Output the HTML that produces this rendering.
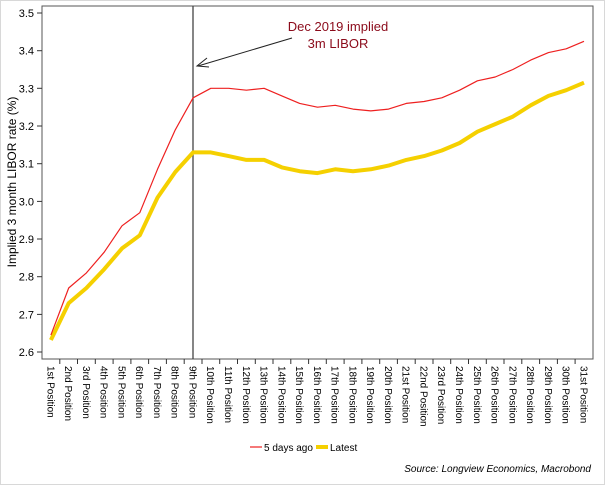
<!DOCTYPE html>
<html><head><style>
html,body{margin:0;padding:0;background:#fff;}
svg{display:block;font-family:"Liberation Sans",Arial,sans-serif;}
</style></head><body>
<svg width="605" height="485" viewBox="0 0 605 485">
<rect x="0.5" y="0.5" width="604" height="484" fill="#fff" stroke="#d8d8d8"/>
<rect x="42" y="6" width="551" height="353" fill="none" stroke="#555" stroke-width="1"/>
<g stroke="#333" stroke-width="1">
<line x1="37" y1="13" x2="42" y2="13"/><line x1="37" y1="50.7" x2="42" y2="50.7"/><line x1="37" y1="88.3" x2="42" y2="88.3"/><line x1="37" y1="126" x2="42" y2="126"/><line x1="37" y1="163.7" x2="42" y2="163.7"/><line x1="37" y1="201.4" x2="42" y2="201.4"/><line x1="37" y1="239" x2="42" y2="239"/><line x1="37" y1="276.7" x2="42" y2="276.7"/><line x1="37" y1="314.4" x2="42" y2="314.4"/><line x1="37" y1="352" x2="42" y2="352"/>
</g>
<g font-size="11" fill="#000" text-anchor="end">
<text x="34" y="17">3.5</text><text x="34" y="54.7">3.4</text><text x="34" y="92.3">3.3</text><text x="34" y="130">3.2</text><text x="34" y="167.7">3.1</text><text x="34" y="205.4">3.0</text><text x="34" y="243">2.9</text><text x="34" y="280.7">2.8</text><text x="34" y="318.4">2.7</text><text x="34" y="356">2.6</text>
</g>
<text transform="translate(16,182) rotate(-90)" font-size="12" text-anchor="middle">Implied 3 month LIBOR rate (%)</text>
<g stroke="#333" stroke-width="1">
<line x1="59.8" y1="359" x2="59.8" y2="364"/><line x1="77.5" y1="359" x2="77.5" y2="364"/><line x1="95.3" y1="359" x2="95.3" y2="364"/><line x1="113.1" y1="359" x2="113.1" y2="364"/><line x1="130.9" y1="359" x2="130.9" y2="364"/><line x1="148.6" y1="359" x2="148.6" y2="364"/><line x1="166.4" y1="359" x2="166.4" y2="364"/><line x1="184.2" y1="359" x2="184.2" y2="364"/><line x1="202" y1="359" x2="202" y2="364"/><line x1="219.7" y1="359" x2="219.7" y2="364"/><line x1="237.5" y1="359" x2="237.5" y2="364"/><line x1="255.3" y1="359" x2="255.3" y2="364"/><line x1="273" y1="359" x2="273" y2="364"/><line x1="290.8" y1="359" x2="290.8" y2="364"/><line x1="308.6" y1="359" x2="308.6" y2="364"/><line x1="326.3" y1="359" x2="326.3" y2="364"/><line x1="344.1" y1="359" x2="344.1" y2="364"/><line x1="361.9" y1="359" x2="361.9" y2="364"/><line x1="379.7" y1="359" x2="379.7" y2="364"/><line x1="397.4" y1="359" x2="397.4" y2="364"/><line x1="415.2" y1="359" x2="415.2" y2="364"/><line x1="433" y1="359" x2="433" y2="364"/><line x1="450.7" y1="359" x2="450.7" y2="364"/><line x1="468.5" y1="359" x2="468.5" y2="364"/><line x1="486.3" y1="359" x2="486.3" y2="364"/><line x1="504" y1="359" x2="504" y2="364"/><line x1="521.8" y1="359" x2="521.8" y2="364"/><line x1="539.6" y1="359" x2="539.6" y2="364"/><line x1="557.4" y1="359" x2="557.4" y2="364"/><line x1="575.1" y1="359" x2="575.1" y2="364"/>
</g>
<g font-size="10" fill="#000">
<text transform="translate(47.3,366) rotate(90)">1st Position</text>
<text transform="translate(65.1,366) rotate(90)">2nd Position</text>
<text transform="translate(82.8,366) rotate(90)">3rd Position</text>
<text transform="translate(100.6,366) rotate(90)">4th Position</text>
<text transform="translate(118.4,366) rotate(90)">5th Position</text>
<text transform="translate(136.2,366) rotate(90)">6th Position</text>
<text transform="translate(153.9,366) rotate(90)">7th Position</text>
<text transform="translate(171.7,366) rotate(90)">8th Position</text>
<text transform="translate(189.5,366) rotate(90)">9th Position</text>
<text transform="translate(207.2,366) rotate(90)">10th Position</text>
<text transform="translate(225,366) rotate(90)">11th Position</text>
<text transform="translate(242.8,366) rotate(90)">12th Position</text>
<text transform="translate(260.5,366) rotate(90)">13th Position</text>
<text transform="translate(278.3,366) rotate(90)">14th Position</text>
<text transform="translate(296.1,366) rotate(90)">15th Position</text>
<text transform="translate(313.9,366) rotate(90)">16th Position</text>
<text transform="translate(331.6,366) rotate(90)">17th Position</text>
<text transform="translate(349.4,366) rotate(90)">18th Position</text>
<text transform="translate(367.2,366) rotate(90)">19th Position</text>
<text transform="translate(384.9,366) rotate(90)">20th Position</text>
<text transform="translate(402.7,366) rotate(90)">21st Position</text>
<text transform="translate(420.5,366) rotate(90)">22nd Position</text>
<text transform="translate(438.2,366) rotate(90)">23rd Position</text>
<text transform="translate(456,366) rotate(90)">24th Position</text>
<text transform="translate(473.8,366) rotate(90)">25th Position</text>
<text transform="translate(491.6,366) rotate(90)">26th Position</text>
<text transform="translate(509.3,366) rotate(90)">27th Position</text>
<text transform="translate(527.1,366) rotate(90)">28th Position</text>
<text transform="translate(544.9,366) rotate(90)">29th Position</text>
<text transform="translate(562.6,366) rotate(90)">30th Position</text>
<text transform="translate(580.4,366) rotate(90)">31st Position</text>
</g>
<line x1="193" y1="6" x2="193" y2="359" stroke="#444" stroke-width="1.3"/>
<polyline fill="none" stroke="#f5d000" stroke-width="4" stroke-linejoin="round" points="50.9,340 68.7,303.1 86.4,288 104.2,269.2 122,248.4 139.8,235.3 157.5,197.6 175.3,172 193.1,152.4 210.8,152.4 228.6,156.1 246.4,159.9 264.1,159.9 281.9,167.4 299.7,171.2 317.5,173.1 335.2,169.3 353,171.2 370.8,169.3 388.5,165.6 406.3,159.9 424.1,156.1 441.8,150.5 459.6,143 477.4,131.7 495.2,124.1 512.9,116.6 530.7,105.3 548.5,95.9 566.2,90.2 584,82.7"/>
<polyline fill="none" stroke="#ee2020" stroke-width="1.2" stroke-linejoin="round" points="50.9,335.1 68.7,288 86.4,272.9 104.2,252.2 122,225.8 139.8,212.7 157.5,169.3 175.3,129.8 193.1,97.8 210.8,88.3 228.6,88.3 246.4,90.2 264.1,88.3 281.9,95.9 299.7,103.4 317.5,107.2 335.2,105.3 353,109.1 370.8,110.9 388.5,109.1 406.3,103.4 424.1,101.5 441.8,97.8 459.6,90.2 477.4,80.8 495.2,77 512.9,69.5 530.7,60.1 548.5,52.6 566.2,48.8 584,41.3"/>
<g fill="#8b0a1a" font-size="13" text-anchor="middle">
<text x="338" y="31">Dec 2019 implied</text>
<text x="338" y="48">3m LIBOR</text>
</g>
<line x1="292" y1="38" x2="198" y2="66" stroke="#222" stroke-width="1"/>
<polyline points="207,58 197,66 209,67" fill="none" stroke="#222" stroke-width="1"/>
<line x1="250" y1="447" x2="262" y2="447" stroke="#ee2020" stroke-width="1.2"/>
<text x="264" y="451" font-size="10">5 days ago</text>
<line x1="316" y1="447" x2="328" y2="447" stroke="#f5d000" stroke-width="4"/>
<text x="330" y="451" font-size="10">Latest</text>
<text x="591" y="472" font-size="10" font-style="italic" text-anchor="end">Source: Longview Economics, Macrobond</text>
</svg>
</body></html>
